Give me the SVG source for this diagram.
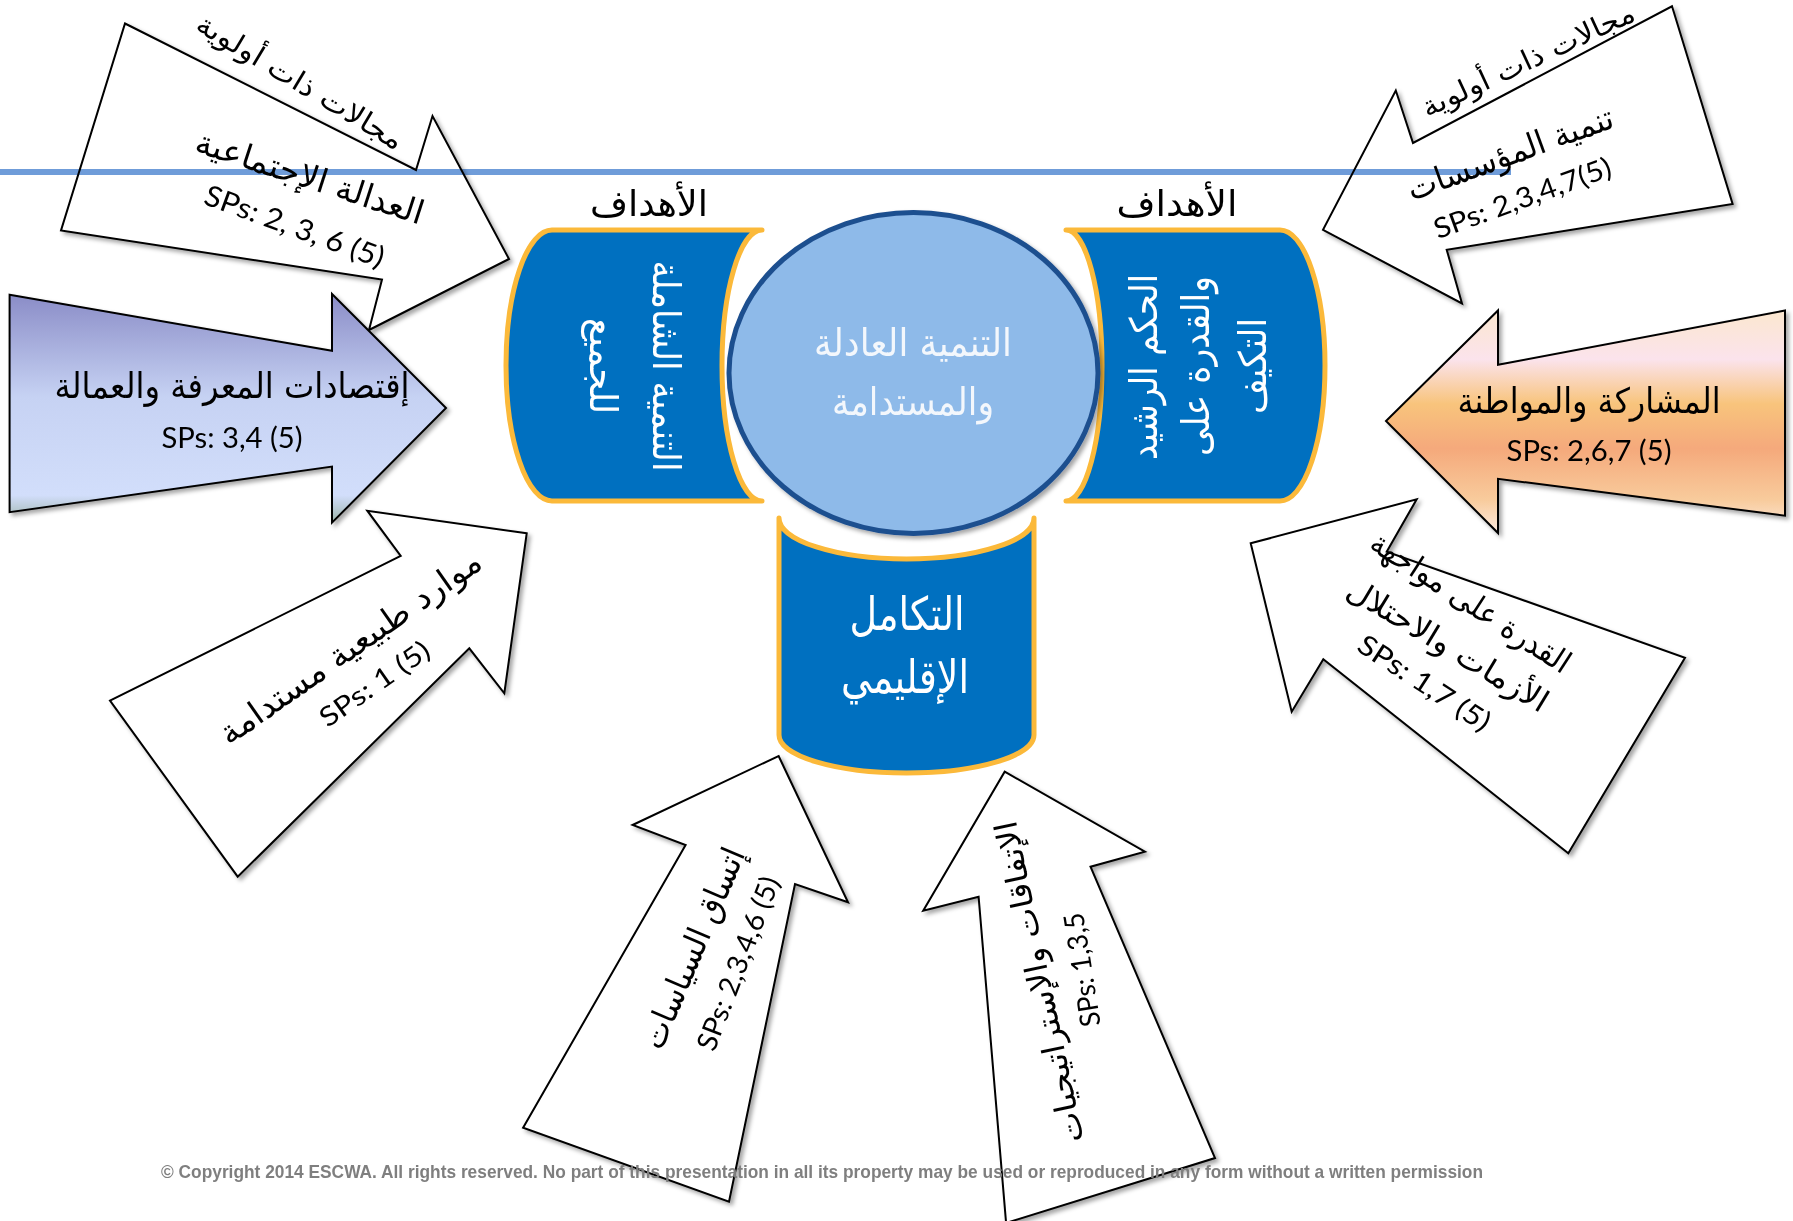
<svg xmlns="http://www.w3.org/2000/svg" width="1793" height="1221" viewBox="0 0 1793 1221">
<defs>
  <filter id="sh" x="-10%" y="-10%" width="130%" height="130%">
    <feDropShadow dx="3" dy="3" stdDeviation="2" flood-color="#000" flood-opacity="0.35"/>
  </filter>
  <linearGradient id="gPurple" x1="0" y1="0" x2="0" y2="1">
    <stop offset="0" stop-color="#8a8cc7"/>
    <stop offset="0.45" stop-color="#c6d2f3"/>
    <stop offset="0.88" stop-color="#d2defb"/>
    <stop offset="1" stop-color="#9cb3a9"/>
  </linearGradient>
  <linearGradient id="gOrange" x1="0" y1="0" x2="0" y2="1">
    <stop offset="0" stop-color="#fbe7cf"/>
    <stop offset="0.22" stop-color="#fbe3ec"/>
    <stop offset="0.42" stop-color="#f8c47c"/>
    <stop offset="0.62" stop-color="#f5a97b"/>
    <stop offset="0.85" stop-color="#f8cb9c"/>
    <stop offset="1" stop-color="#fdeade"/>
  </linearGradient>
  <style>
    .arrow { stroke:#000; stroke-width:2; stroke-linejoin:miter; filter:url(#sh); }
    .white { fill:#ffffff; }
    .cyl { fill:#0070c0; stroke:#fbb93a; stroke-width:5; stroke-linejoin:round; }
    .ar { font-family:"DejaVu Sans", sans-serif; text-anchor:middle; dominant-baseline:central; }
    .lat { font-family:Lato, "Liberation Sans", sans-serif; text-anchor:middle; dominant-baseline:central; }
    .blk { fill:#000; }
    .wht { fill:#ffffff; }
  </style>
</defs>

<!-- center cylinders and circle -->
<g id="cyl-left">
  <path class="cyl" d="M 762,230 L 552,230 A 46,135.5 0 0 0 552,501 L 762,501 A 40,135.5 0 0 1 762,230 Z"/>
  <text class="ar wht" font-size="38" transform="translate(666,366) rotate(90)" textLength="211" lengthAdjust="spacingAndGlyphs">التنمية الشاملة</text>
  <text class="ar wht" font-size="38" transform="translate(603,366) rotate(90)" textLength="96" lengthAdjust="spacingAndGlyphs">للجميع</text>
</g>
<g id="cyl-right">
  <path class="cyl" d="M 1066,230 L 1280,230 A 45,135.5 0 0 1 1280,501 L 1066,501 A 36,135.5 0 0 0 1066,230 Z"/>
  <text class="ar wht" font-size="38" transform="translate(1144,367) rotate(-90)" textLength="186" lengthAdjust="spacingAndGlyphs">الحكم الرشيد</text>
  <text class="ar wht" font-size="38" transform="translate(1196,366) rotate(-90)" textLength="180" lengthAdjust="spacingAndGlyphs">والقدرة على</text>
  <text class="ar wht" font-size="38" transform="translate(1253,366) rotate(-90)" textLength="96" lengthAdjust="spacingAndGlyphs">التكيف</text>
</g>
<g id="cyl-bottom">
  <path class="cyl" d="M 779,518 A 127.5,41 0 0 0 1034,518 L 1034,735 A 127.5,38 0 0 1 779,735 Z"/>
  <text class="ar wht" font-size="46" x="907" y="614" textLength="115" lengthAdjust="spacingAndGlyphs">التكامل</text>
  <text class="ar wht" font-size="46" x="905" y="677" textLength="128" lengthAdjust="spacingAndGlyphs">الإقليمي</text>
</g>
<g id="center">
  <ellipse cx="913.5" cy="373" rx="184.5" ry="160.5" fill="#8ebae9" stroke="#1f4f8f" stroke-width="5" filter="url(#sh)"/>
  <text class="ar" fill="#f3f7fc" font-size="38" x="913" y="343" textLength="198" lengthAdjust="spacingAndGlyphs">التنمية العادلة</text>
  <text class="ar" fill="#f3f7fc" font-size="38" x="913" y="402" textLength="162" lengthAdjust="spacingAndGlyphs">والمستدامة</text>
</g>
<g id="goals-left">
  <text class="ar blk" font-size="36" x="649" y="203" textLength="118" lengthAdjust="spacingAndGlyphs">الأهداف</text>
</g>
<g id="goals-right">
  <text class="ar blk" font-size="36" x="1177" y="203" textLength="121" lengthAdjust="spacingAndGlyphs">الأهداف</text>
</g>

<!-- arrows -->
<g id="arrow-social-justice">
  <polygon class="arrow white" points="125,23.5 416,170 432.5,116 509,259 369,330 382,279.6 61,230.5"/>
  <text class="ar blk" font-size="28" transform="translate(300,82) rotate(31)" textLength="236" lengthAdjust="spacingAndGlyphs">مجالات ذات أولوية</text>
  <text class="ar blk" font-size="33" transform="translate(310,177) rotate(18)" textLength="238" lengthAdjust="spacingAndGlyphs">العدالة الإجتماعية</text>
  <text class="lat blk" font-size="29" transform="translate(295,225) rotate(20)" textLength="189" lengthAdjust="spacingAndGlyphs">SPs: 2, 3, 6 (5)</text>
</g>
<g id="arrow-knowledge">
  <polygon class="arrow" fill="url(#gPurple)" points="9.6,294.7 332,350.8 332,294 446,408 332,522.7 332,466.6 9.6,512.2"/>
  <text class="ar blk" font-size="35" x="232" y="386" textLength="355" lengthAdjust="spacingAndGlyphs">إقتصادات المعرفة والعمالة</text>
  <text class="lat blk" font-size="29" x="232" y="436" textLength="141" lengthAdjust="spacingAndGlyphs">SPs: 3,4 (5)</text>
</g>
<g id="arrow-institutions">
  <polygon class="arrow white" points="1672,6.3 1732.6,204 1446.7,249.8 1462,303.4 1323,229.8 1395.8,90.5 1413,143"/>
  <text class="ar blk" font-size="28" transform="translate(1528,60) rotate(-25)" textLength="232" lengthAdjust="spacingAndGlyphs">مجالات ذات أولوية</text>
  <text class="ar blk" font-size="33" transform="translate(1510,153) rotate(-20)" textLength="217" lengthAdjust="spacingAndGlyphs">تنمية المؤسسات</text>
  <text class="lat blk" font-size="28" transform="translate(1522,197) rotate(-20)" textLength="187" lengthAdjust="spacingAndGlyphs">SPs: 2,3,4,7(5)</text>
</g>
<g id="arrow-participation">
  <polygon class="arrow" fill="url(#gOrange)" points="1785,310.5 1498,364.8 1498,310.5 1386,421 1498,533 1498,478.8 1785,515.7"/>
  <text class="ar blk" font-size="35" x="1589" y="401" textLength="263" lengthAdjust="spacingAndGlyphs">المشاركة والمواطنة</text>
  <text class="lat blk" font-size="29" x="1589" y="449" textLength="165" lengthAdjust="spacingAndGlyphs">SPs: 2,6,7 (5)</text>
</g>
<g id="arrow-natural-resources">
  <polygon class="arrow white" points="526.7,533.3 367.3,510.7 400.7,556 110,700.7 237.7,876.7 469.3,648.3 504.3,693.3"/>
  <text class="ar blk" font-size="33" transform="translate(350,647) rotate(-35)" textLength="312" lengthAdjust="spacingAndGlyphs">موارد طبيعية مستدامة</text>
  <text class="lat blk" font-size="27" transform="translate(374,683) rotate(-35)" textLength="128" lengthAdjust="spacingAndGlyphs">SPs: 1  (5)</text>
</g>
<g id="arrow-crisis">
  <polygon class="arrow white" points="1250.7,543.3 1416.7,499.3 1386.7,551.7 1685,657.7 1568.3,853.3 1323.3,659.3 1291.7,711.7"/>
  <text class="ar blk" font-size="31" transform="translate(1471,602) rotate(33)" textLength="232" lengthAdjust="spacingAndGlyphs">القدرة على مواجهة</text>
  <text class="ar blk" font-size="31" transform="translate(1448,645) rotate(31)" textLength="229" lengthAdjust="spacingAndGlyphs">الأزمات والاحتلال</text>
  <text class="lat blk" font-size="28" transform="translate(1425,682) rotate(33)" textLength="152" lengthAdjust="spacingAndGlyphs">SPs: 1,7 (5)</text>
</g>
<g id="arrow-policy">
  <polygon class="arrow white" points="778.6,756 848,902.3 795,884 729,1201.7 523.1,1127.7 685.6,845 632.6,825"/>
  <text class="ar blk" font-size="33" transform="translate(693,948) rotate(-67)" textLength="215" lengthAdjust="spacingAndGlyphs">إتساق السياسات</text>
  <text class="lat blk" font-size="28" transform="translate(737,963) rotate(-69)" textLength="184" lengthAdjust="spacingAndGlyphs">SPs: 2,3,4,6 (5)</text>
</g>
<g id="arrow-agreements">
  <polygon class="arrow white" points="1004.7,771.7 1144.9,851.7 1090.5,866.7 1215,1158 1006.1,1223 978.6,896.7 923.2,910.7"/>
  <text class="ar blk" font-size="31" transform="translate(1039,982) rotate(-102)" textLength="328" lengthAdjust="spacingAndGlyphs">الإتفاقات والإستراتيجيات</text>
  <text class="lat blk" font-size="28" transform="translate(1081,970) rotate(-99)" textLength="115" lengthAdjust="spacingAndGlyphs">SPs: 1,3,5</text>
</g>

<!-- decorative horizontal rule -->
<g id="connectors">
  <line x1="0" y1="172" x2="1511" y2="172" stroke="#6f9cd9" stroke-width="6" style="mix-blend-mode:multiply"/>
</g>

<g id="copyright">
  <text x="161" y="1171" font-family="'Liberation Sans', Arial, sans-serif" font-weight="bold" font-size="19" fill="#7f7f7f" dominant-baseline="central" textLength="1322" lengthAdjust="spacingAndGlyphs">© Copyright 2014 ESCWA. All rights reserved. No part of this presentation in all its property may be used or reproduced in any form without a written permission</text>
</g>
</svg>
